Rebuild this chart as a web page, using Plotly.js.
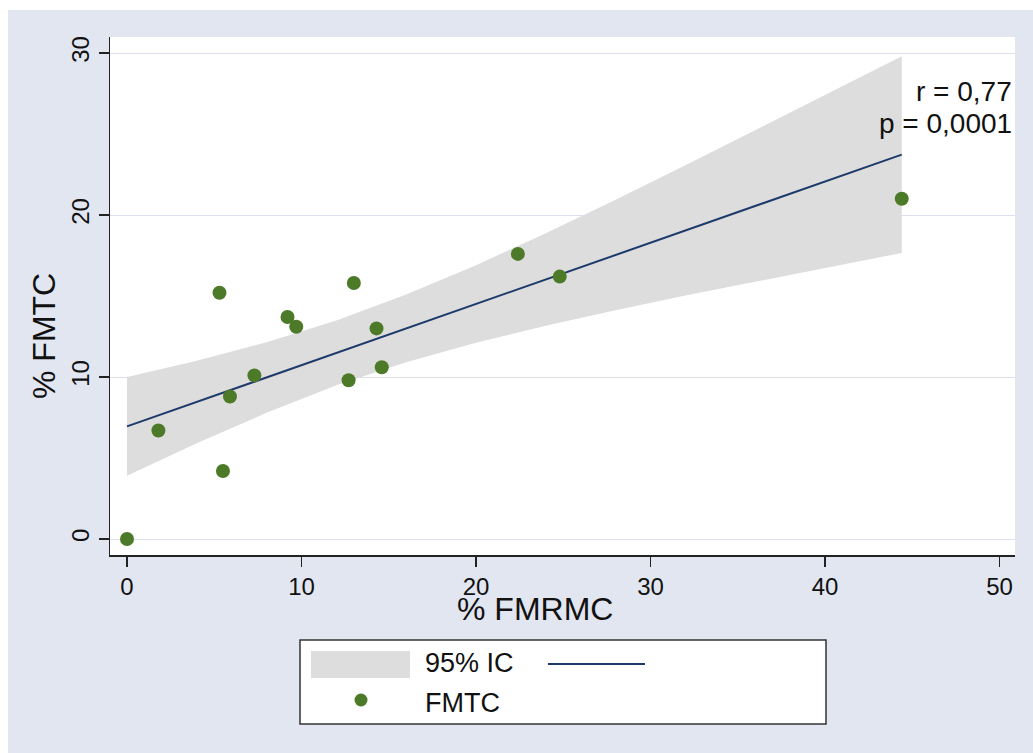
<!DOCTYPE html>
<html>
<head>
<meta charset="utf-8">
<script src="https://cdn.plot.ly/plotly-3.0.1.min.js"></script>
<style>
  html, body { margin: 0; padding: 0; background: #ffffff; }
  #chart { position: absolute; left: 8px; top: 10px; width: 1025px; height: 743px; }
</style>
</head>
<body>
<div id="chart"></div>
<script>
// ---- data ----
var fmrmc = [0, 1.8, 5.3, 5.5, 5.9, 7.3, 9.2, 9.7, 12.7, 13.0, 14.3, 14.6, 22.4, 24.8, 44.4];
var fmtc  = [0, 6.7, 15.2, 4.2, 8.8, 10.1, 13.7, 13.1, 9.8, 15.8, 13.0, 10.6, 17.6, 16.2, 21.0];

var fitX = [0, 44.4];
var fitY = [6.95, 23.73];

var ciX     = [0, 4, 8, 12, 16, 20, 24, 28, 32, 36, 40, 44.4];
var ciUpper = [10.00, 11.01, 12.15, 13.49, 15.09, 16.90, 18.88, 20.94, 23.07, 25.23, 27.39, 29.80];
var ciLower = [3.90, 5.91, 7.79, 9.49, 10.91, 12.12, 13.16, 14.12, 15.03, 15.89, 16.75, 17.66];

var xTicks = [0, 10, 20, 30, 40, 50];
var yTicks = [0, 10, 20, 30];

var xTitle = "% FMRMC";
var yTitle = "% FMTC";
var statLines = ["r = 0,77", "p = 0,0001"];
var legendLabels = ["95% IC", "FMTC"];

// ---- styling ----
var FONT = "Liberation Sans, Arial, sans-serif";
var BG = "#e2e6f1";
var BAND = "#dddddd";
var LINE = "#1d3a6b";
var DOT = "#4d7a28";

// page-pixel -> paper helpers (plot area: x 110..1015, y 37..555 in page pixels)
var PL = 110, PR = 1015, PT = 37, PB = 555;
function px(x) { return (x - PL) / (PR - PL); }
function py(y) { return (PB - y) / (PB - PT); }

var traces = [
  { x: ciX, y: ciLower, type: "scatter", mode: "lines", line: { width: 0, color: BAND },
    hoverinfo: "skip", showlegend: false },
  { x: ciX, y: ciUpper, type: "scatter", mode: "lines", line: { width: 0, color: BAND },
    fill: "tonexty", fillcolor: BAND, hoverinfo: "skip", showlegend: false },
  { x: fitX, y: fitY, type: "scatter", mode: "lines", line: { width: 2, color: LINE },
    showlegend: false },
  { x: fmrmc, y: fmtc, type: "scatter", mode: "markers",
    marker: { size: 14, color: DOT }, showlegend: false, cliponaxis: false }
];

var layout = {
  width: 1025, height: 743,
  paper_bgcolor: BG, plot_bgcolor: "#ffffff",
  margin: { l: 102, r: 18, t: 27, b: 198, pad: 0 },
  showlegend: false,
  font: { family: FONT, color: "#111111" },
  xaxis: {
    range: [-0.974, 50.89], tickvals: xTicks, ticktext: xTicks.map(String),
    showgrid: false, zeroline: false,
    showline: true, linecolor: "#222222", linewidth: 1.5,
    ticks: "outside", ticklen: 10, tickwidth: 1.5, tickcolor: "#222222",
    tickfont: { family: FONT, size: 24, color: "#111111" }
  },
  yaxis: {
    range: [-0.988, 30.99], tickvals: yTicks, ticktext: yTicks.map(String),
    showgrid: true, gridcolor: "#dcdff0", gridwidth: 1, zeroline: false,
    showline: true, linecolor: "#222222", linewidth: 1.5,
    ticks: "outside", ticklen: 10, tickwidth: 1.5, tickcolor: "#222222",
    tickangle: -90,
    tickfont: { family: FONT, size: 24, color: "#111111" }
  },
  annotations: [
    { text: xTitle, xref: "paper", yref: "paper", x: px(535), y: py(609),
      xanchor: "center", yanchor: "middle", showarrow: false,
      font: { family: FONT, size: 32, color: "#111111" } },
    { text: yTitle, xref: "paper", yref: "paper", x: px(44), y: py(336), textangle: -90,
      xanchor: "center", yanchor: "middle", showarrow: false,
      font: { family: FONT, size: 32, color: "#111111" } },
    { text: statLines[0], xref: "paper", yref: "paper", x: px(1014), y: py(91),
      xanchor: "right", yanchor: "middle", showarrow: false,
      font: { family: FONT, size: 28, color: "#111111" } },
    { text: statLines[1], xref: "paper", yref: "paper", x: px(1014), y: py(123),
      xanchor: "right", yanchor: "middle", showarrow: false,
      font: { family: FONT, size: 28, color: "#111111" } },
    { text: legendLabels[0], xref: "paper", yref: "paper", x: px(423), y: py(663),
      xanchor: "left", yanchor: "middle", showarrow: false,
      font: { family: FONT, size: 27, color: "#111111" } },
    { text: legendLabels[1], xref: "paper", yref: "paper", x: px(423), y: py(703),
      xanchor: "left", yanchor: "middle", showarrow: false,
      font: { family: FONT, size: 27, color: "#111111" } }
  ],
  shapes: [
    { type: "rect", xref: "paper", yref: "paper", x0: px(300), x1: px(826), y0: py(640), y1: py(724),
      fillcolor: "#ffffff", line: { color: "#333333", width: 1.5 }, layer: "above" },
    { type: "rect", xref: "paper", yref: "paper", x0: px(311), x1: px(410), y0: py(651), y1: py(678),
      fillcolor: BAND, line: { width: 0 }, layer: "above" },
    { type: "line", xref: "paper", yref: "paper", x0: px(548), x1: px(645), y0: py(664), y1: py(664),
      line: { color: LINE, width: 2 }, layer: "above" },
    { type: "circle", xref: "paper", yref: "paper", x0: px(354.5), x1: px(367.5), y0: py(693.5), y1: py(706.5),
      fillcolor: DOT, line: { width: 0 }, layer: "above" }
  ]
};

Plotly.newPlot("chart", traces, layout, { displayModeBar: false, staticPlot: true });
</script>
</body>
</html>
